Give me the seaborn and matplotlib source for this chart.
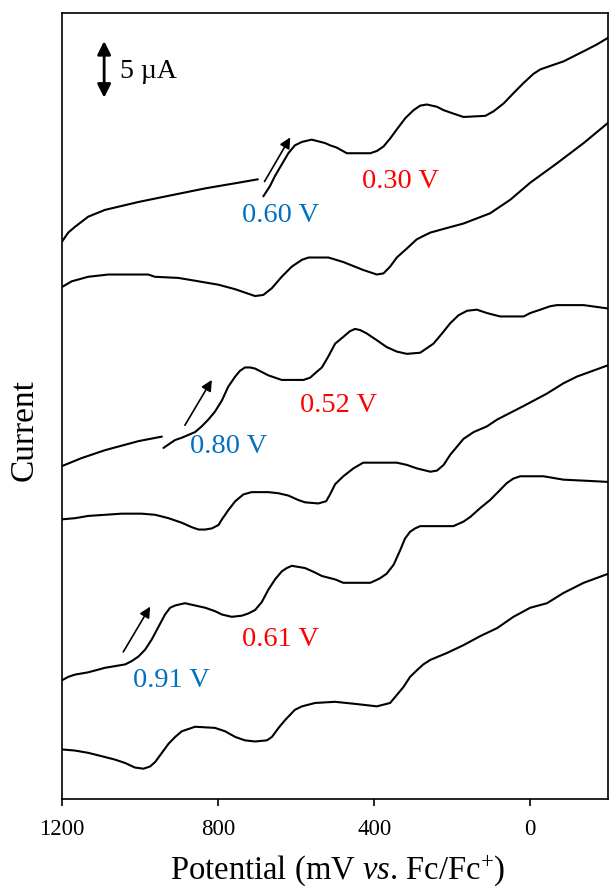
import matplotlib
matplotlib.use("Agg")
import matplotlib.pyplot as plt
import seaborn as sns

# ---- data (potential in mV vs Fc/Fc+, current in µA, offset stacked) ----
pot_1a = [1200, 1184, 1167, 1133, 1090, 1004, 919, 833, 748, 698]
cur_1a = [49.2, 50.0, 50.5, 51.4, 52.0, 52.7, 53.3, 53.9, 54.4, 54.7]
pot_1b = [684, 667, 654, 637, 620, 603, 585, 560, 526, 513, 496, 470, 410, 393,
          376, 359, 342, 320, 299, 282, 265, 239, 222, 197, 171, 115, 94, 68,
          43, 17, -8, -26, -51, -85, -137, -171, -200]
cur_1b = [53.2, 54.1, 55.0, 56.0, 57.0, 57.7, 58.0, 58.2, 57.9, 57.7, 57.5, 57.0,
          57.0, 57.2, 57.6, 58.3, 59.1, 60.1, 60.8, 61.2, 61.3, 61.1, 60.8, 60.5,
          60.2, 60.3, 60.7, 61.4, 62.3, 63.2, 64.0, 64.4, 64.7, 65.1, 66.0, 66.6,
          67.2]

pot_2 = [1200, 1175, 1133, 1081, 979, 962, 902, 850, 799, 756, 722, 705, 684,
         662, 637, 611, 585, 568, 517, 479, 428, 393, 376, 359, 342, 316, 291,
         274, 256, 214, 171, 103, 51, 0, -68, -137, -200]
cur_2 = [45.2, 45.7, 46.1, 46.3, 46.3, 46.1, 46.0, 45.7, 45.4, 45.0, 44.6, 44.4,
         44.5, 45.1, 46.1, 47.0, 47.6, 47.8, 47.8, 47.4, 46.7, 46.3, 46.4, 47.0,
         47.8, 48.6, 49.4, 49.7, 50.0, 50.4, 50.8, 51.7, 52.9, 54.4, 56.1, 57.9,
         59.7]

pot_3a = [1200, 1150, 1090, 1004, 944]
cur_3a = [29.4, 30.1, 30.8, 31.6, 32.0]
pot_3b = [940, 923, 910, 893, 859, 842, 825, 808, 790, 774, 756, 744, 731, 718,
          705, 688, 671, 654, 637, 581, 564, 551, 534, 517, 500, 479, 462, 449,
          436, 419, 393, 368, 342, 316, 282, 265, 248, 226, 205, 184, 162, 137,
          111, 77, 17, 0, -26, -51, -68, -137, -200]
cur_3b = [31.0, 31.4, 31.7, 31.9, 32.4, 32.9, 33.5, 34.2, 35.2, 36.4, 37.3, 37.8,
          38.1, 38.1, 38.0, 37.7, 37.4, 37.2, 37.0, 37.0, 37.2, 37.6, 38.1, 39.1,
          40.2, 40.8, 41.3, 41.5, 41.4, 41.1, 40.5, 39.9, 39.5, 39.3, 39.4, 39.8,
          40.2, 41.1, 42.0, 42.7, 43.1, 43.2, 42.9, 42.6, 42.6, 42.9, 43.2, 43.5,
          43.6, 43.6, 43.3]

pot_4 = [1200, 1167, 1133, 1047, 996, 961, 927, 893, 867, 850, 833, 816, 799,
         790, 774, 756, 735, 714, 671, 645, 620, 594, 577, 543, 523, 513, 500,
         479, 453, 428, 342, 316, 291, 256, 239, 222, 205, 188, 171, 145, 111,
         85, 17, -43, -85, -120, -200]
cur_4 = [24.7, 24.8, 25.0, 25.2, 25.2, 25.1, 24.8, 24.4, 24.0, 23.8, 23.8, 23.9,
         24.2, 24.7, 25.5, 26.3, 26.9, 27.1, 27.1, 27.0, 26.8, 26.4, 26.2, 26.1,
         26.3, 26.9, 27.8, 28.5, 29.2, 29.7, 29.7, 29.5, 29.2, 28.9, 29.0, 29.5,
         30.4, 31.1, 31.8, 32.4, 32.9, 33.5, 34.7, 35.8, 36.7, 37.3, 38.3]

pot_5 = [1200, 1184, 1167, 1133, 1090, 1038, 1021, 1004, 987, 970, 953, 936,
         923, 910, 885, 859, 833, 808, 790, 765, 739, 722, 705, 688, 671, 654,
         637, 624, 611, 594, 577, 551, 534, 500, 479, 410, 397, 385, 368, 350,
         333, 321, 308, 295, 282, 197, 171, 154, 128, 103, 77, 60, 43, 26, -34,
         -85, -145, -200]
cur_5 = [10.5, 10.8, 11.0, 11.2, 11.6, 11.9, 12.2, 12.6, 13.2, 14.1, 15.2, 16.3,
         16.9, 17.1, 17.3, 17.1, 16.9, 16.6, 16.3, 16.1, 16.2, 16.4, 16.7, 17.4,
         18.5, 19.4, 20.1, 20.4, 20.6, 20.5, 20.4, 20.0, 19.7, 19.4, 19.1, 19.1,
         19.3, 19.5, 19.9, 20.7, 22.0, 23.0, 23.6, 23.9, 24.1, 24.1, 24.5, 24.9,
         25.7, 26.4, 27.3, 27.9, 28.3, 28.5, 28.5, 28.2, 28.1, 28.0]

pot_6 = [1200, 1167, 1133, 1098, 1064, 1038, 1013, 991, 974, 961, 944, 927, 910,
         893, 876, 859, 808, 782, 756, 731, 705, 675, 662, 645, 628, 603, 585,
         551, 500, 444, 393, 359, 342, 325, 308, 290, 274, 256, 214, 171, 128,
         85, 43, 0, -43, -85, -137, -200]
cur_6 = [4.4, 4.3, 4.1, 3.8, 3.5, 3.2, 2.8, 2.7, 2.9, 3.3, 4.1, 4.9, 5.5, 6.0,
         6.2, 6.4, 6.3, 6.0, 5.5, 5.2, 5.1, 5.2, 5.5, 6.3, 7.0, 7.9, 8.2, 8.5,
         8.6, 8.4, 8.2, 8.5, 9.2, 9.9, 10.8, 11.4, 11.9, 12.3, 12.9, 13.6, 14.4,
         15.1, 16.1, 16.9, 17.3, 18.2, 19.1, 19.9]

x_ticks = [1200, 800, 400, 0]
onset_labels = ["0.60 V", "0.80 V", "0.91 V"]
onset_pos = [(641, 51.5), (774, 31.1), (920, 10.5)]
half_labels = ["0.30 V", "0.52 V", "0.61 V"]
half_pos = [(333, 54.5), (490, 34.7), (639, 14.1)]
arrow_from = [(681, 54.5), (885, 33.0), (1043, 13.0)]
arrow_to = [(615, 58.4), (816, 37.0), (974, 17.0)]

# ---- style ----
sns.set_theme(style="white")
plt.rcParams['font.family'] = ['Liberation Serif', 'DejaVu Serif']
plt.rcParams['mathtext.fontset'] = 'custom'
plt.rcParams['mathtext.rm'] = 'Liberation Serif'
plt.rcParams['mathtext.it'] = 'Liberation Serif:italic'

fig = plt.figure(figsize=(6.09, 8.88), dpi=100)
ax = fig.add_axes([0.1018, 0.0999, 0.897, 0.8858])

segments = [(pot_1a, cur_1a), (pot_1b, cur_1b), (pot_2, cur_2),
            (pot_3a, cur_3a), (pot_3b, cur_3b), (pot_4, cur_4),
            (pot_5, cur_5), (pot_6, cur_6)]
for xs, ys in segments:
    sns.lineplot(x=xs, y=ys, ax=ax, color='black', lw=1.5, sort=False,
                 estimator=None)

ax.set_xlim(1200, -200)
ax.set_ylim(0, 69.4)
ax.set_xticks(x_ticks)
ax.set_xticklabels([str(t) for t in x_ticks])
ax.set_yticks([])
ax.tick_params(axis='x', direction='out', length=5, width=1.2, colors='black',
               labelsize=16.5, pad=9, bottom=True)
for sp in ax.spines.values():
    sp.set_visible(True)
    sp.set_color('black')
    sp.set_linewidth(1.2)

ax.set_xlabel(r"Potential (mV $\mathit{vs}$. Fc/Fc$^{+}$)", fontsize=23.5,
              color='black')
ax.xaxis.set_label_coords(0.505, -0.0899)
ax.xaxis.label.set_verticalalignment('center')
ax.set_ylabel("Current", fontsize=24, color='black')
ax.yaxis.set_label_coords(-0.068, 0.469)
ax.yaxis.label.set_verticalalignment('center')

# scale bar
ax.annotate('', xy=(1092, 61.9), xytext=(1092, 66.9),
            arrowprops=dict(arrowstyle='<|-|>', color='black', lw=2.0,
                            mutation_scale=20, shrinkA=0, shrinkB=0))
ax.text(1051, 64.2, "5 µA", fontsize=20, va='center', ha='left', color='black')

for lab, (x, y) in zip(onset_labels, onset_pos):
    ax.text(x, y, lab, fontsize=20.5, color='#0070C0', ha='center', va='center')
for lab, (x, y) in zip(half_labels, half_pos):
    ax.text(x, y, lab, fontsize=20.5, color='#FF0000', ha='center', va='center')
for (x0, y0), (x1, y1) in zip(arrow_from, arrow_to):
    ax.annotate('', xy=(x1, y1), xytext=(x0, y0),
                arrowprops=dict(arrowstyle='-|>', color='black', lw=1.2,
                                mutation_scale=16, shrinkA=0, shrinkB=0))

fig.savefig("out.png", dpi=100)
